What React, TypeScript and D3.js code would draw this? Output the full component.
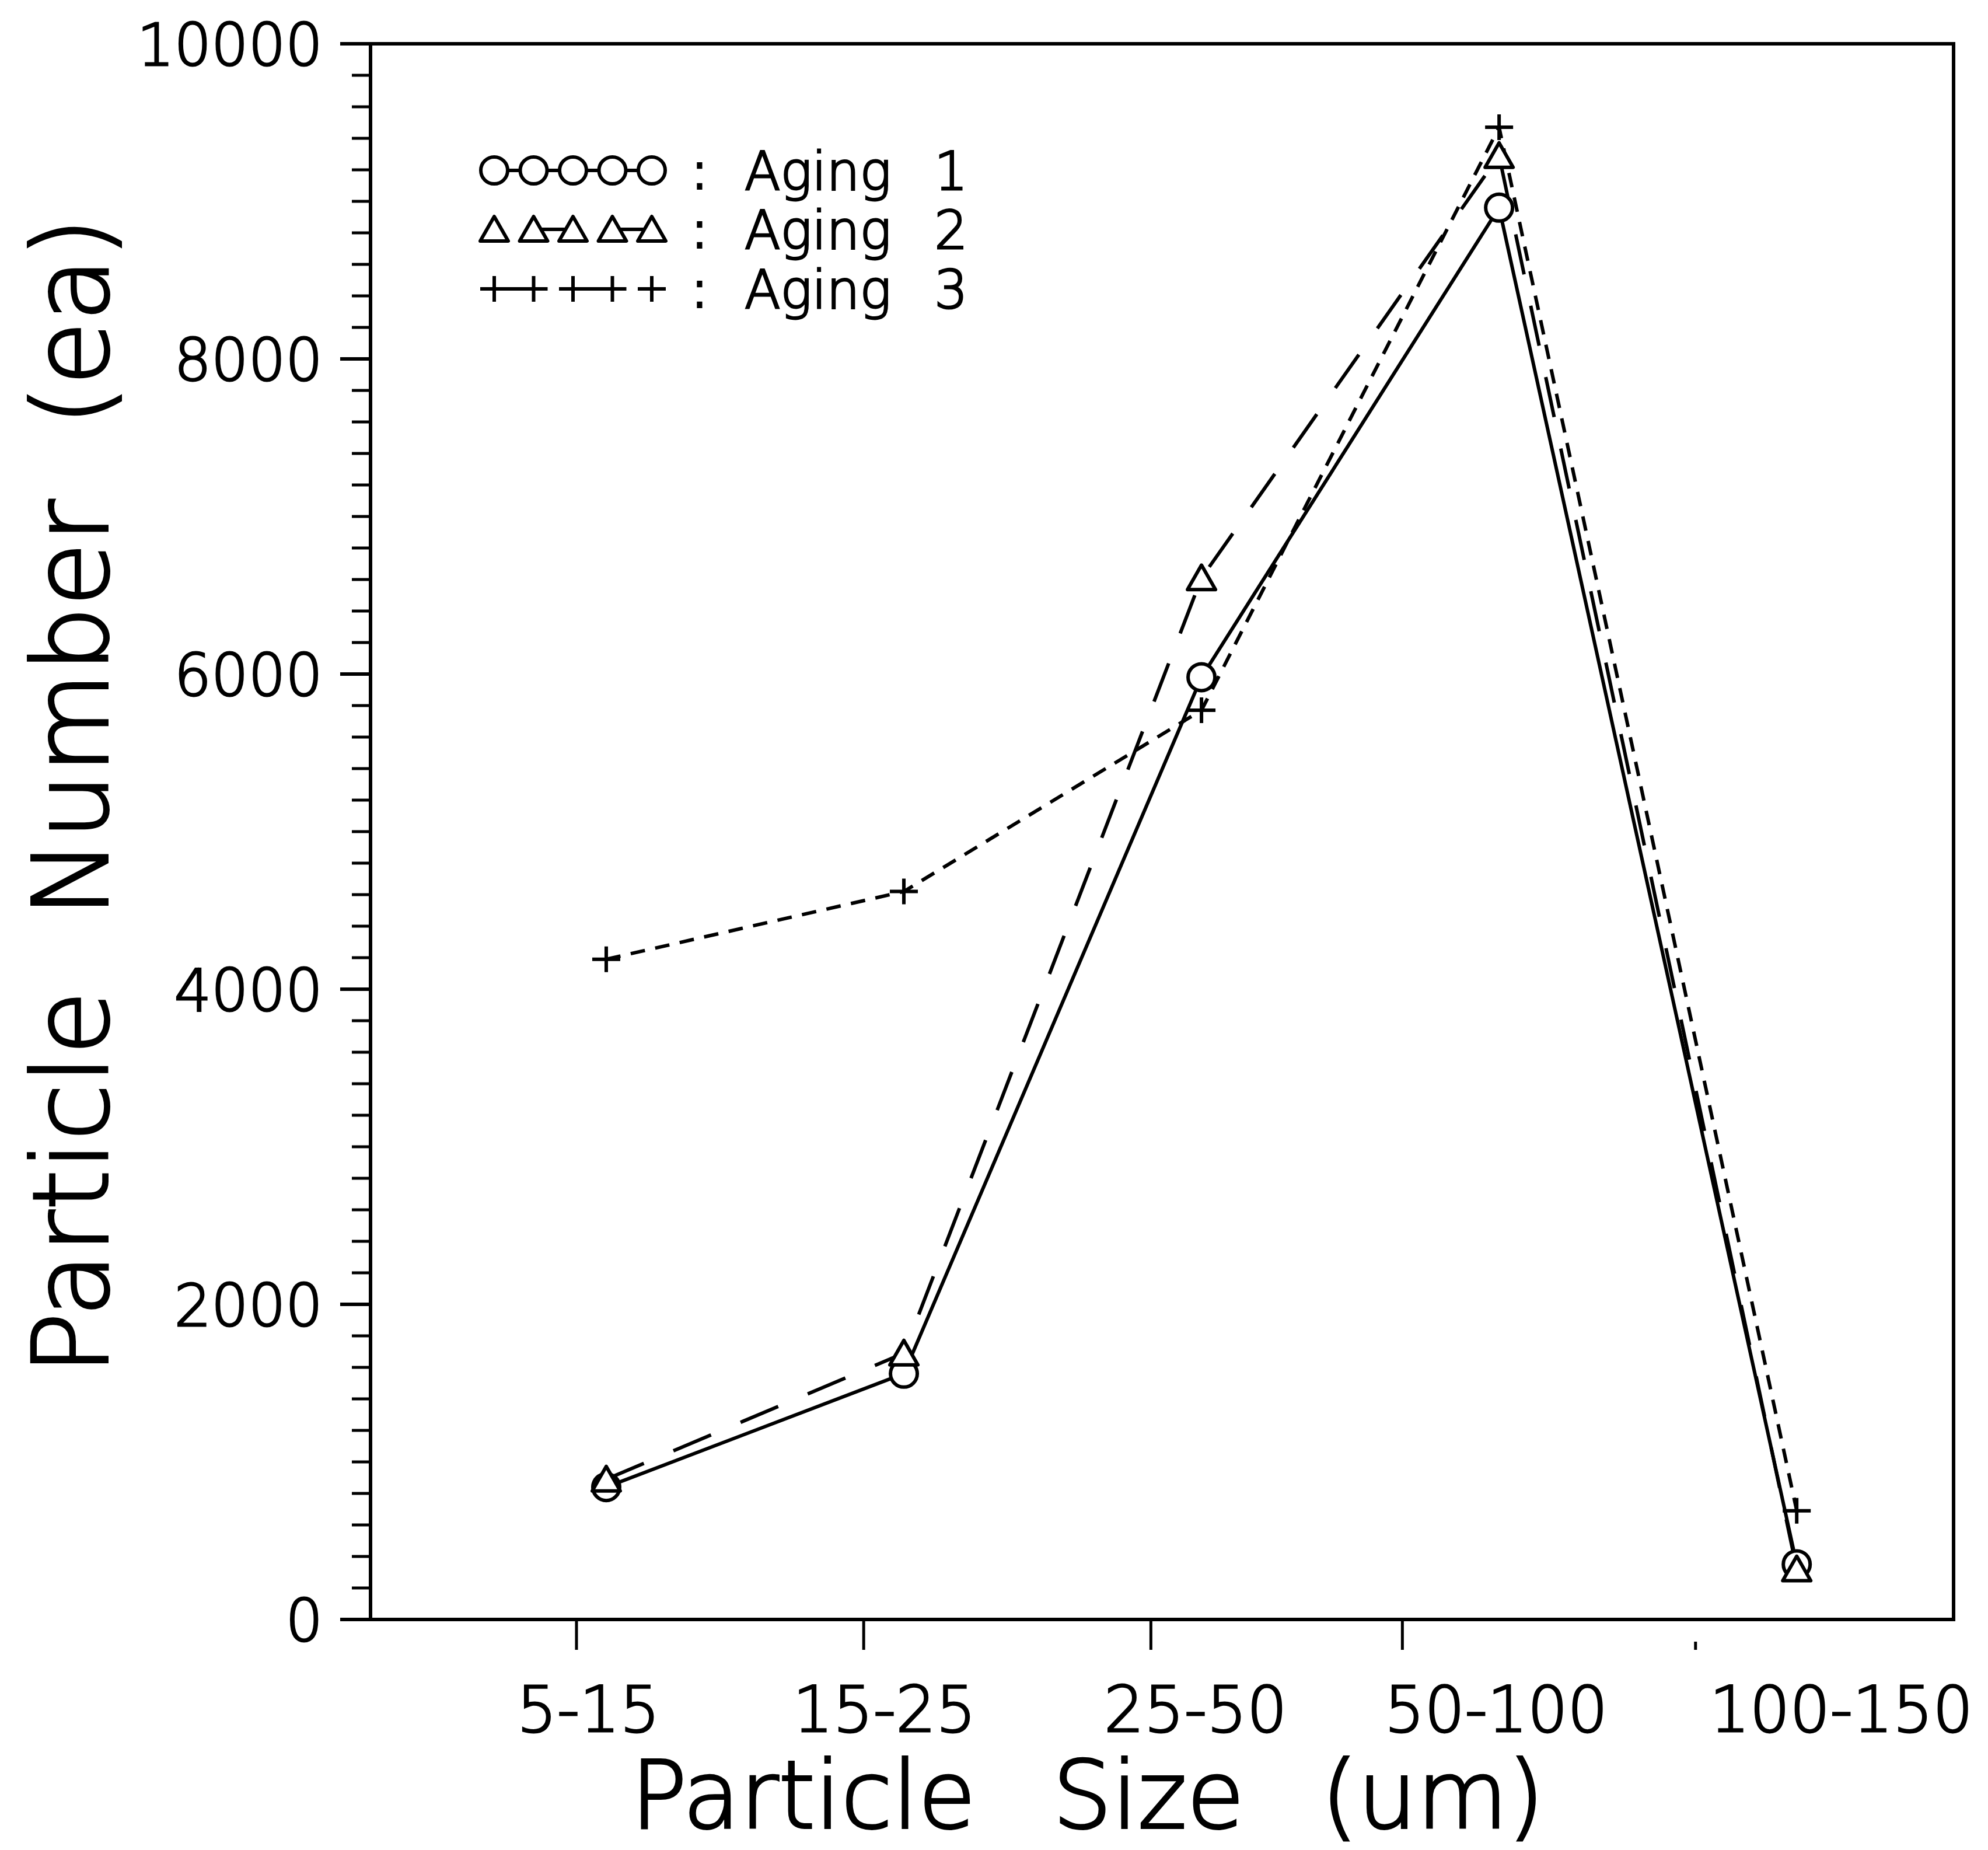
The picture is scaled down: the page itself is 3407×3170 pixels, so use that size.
import React from "react";
import * as d3 from "d3";

// ---- data ----
const categories = ["5-15", "15-25", "25-50", "50-100", "100-150"];
const aging1 = [840, 1560, 5980, 8960, 350];
const aging2 = [890, 1690, 6610, 9290, 320];
const aging3 = [4190, 4620, 5770, 9470, 690];
const seriesNames = ["Aging 1", "Aging 2", "Aging 3"];
const yMajorTicks = [0, 2000, 4000, 6000, 8000, 10000];
// x tick marks and label centres, in category-index units
const xTickValues = [-0.1, 0.865, 1.83, 2.675, 3.66];
const xLabelValues = [-0.06, 0.935, 1.98, 2.99, 4.15];

const W = 3407;
const H = 3170;
const FONT = "'DejaVu Sans', 'Liberation Sans', sans-serif";
const FW = 200;

export default function App() {
  const left = 635, right = 3348, top = 75, bottom = 2775;
  const x = d3.scaleLinear().domain([-0.792, 4.527]).range([left, right]);
  const y = d3.scaleLinear().domain([0, 10000]).range([bottom, top]);
  const yMinor = d3.range(0, 10001, 200);

  const line = d3
    .line<number>()
    .x((_, i) => x(i))
    .y((d) => y(d));

  const series = [
    { name: seriesNames[0], values: aging1, dash: "none", marker: "circle" },
    { name: seriesNames[1], values: aging2, dash: "70,55", marker: "triangle" },
    { name: seriesNames[2], values: aging3, dash: "25,18", marker: "plus" },
  ];

  const sw = 6;
  const textStroke = { stroke: "black", strokeWidth: 3, paintOrder: "stroke" } as const;

  const marker = (kind: string, cx: number, cy: number, key: string) => {
    if (kind === "circle")
      return <circle key={key} cx={cx} cy={cy} r={23} fill="white" stroke="black" strokeWidth={sw} />;
    if (kind === "triangle")
      return (
        <path
          key={key}
          d={`M${cx},${cy - 22} L${cx + 24},${cy + 20} L${cx - 24},${cy + 20} Z`}
          fill="white"
          stroke="black"
          strokeWidth={sw}
          strokeLinejoin="round"
        />
      );
    return (
      <path
        key={key}
        d={`M${cx - 24},${cy} H${cx + 24} M${cx},${cy - 22} V${cy + 22}`}
        stroke="black"
        strokeWidth={sw}
        fill="none"
      />
    );
  };

  // legend geometry
  const legX0 = 847, legDx = 67.5;
  const legRows = [292, 393, 495];
  const legSegs: number[][][] = [
    [[0, 4]],
    [[1, 2], [3, 4]],
    [[0, 1], [2, 3]],
  ];

  return (
    <svg
      width={W}
      height={H}
      viewBox={`0 0 ${W} ${H}`}
      style={{ position: "absolute", left: 0, top: 0, background: "white" }}
    >
      <rect x={0} y={0} width={W} height={H} fill="white" />

      {/* frame */}
      <rect x={left} y={top} width={right - left} height={bottom - top} fill="none" stroke="black" strokeWidth={6} />

      {/* y minor ticks */}
      {yMinor.map((v) => (
        <line key={"m" + v} x1={left - 32} x2={left} y1={y(v)} y2={y(v)} stroke="black" strokeWidth={5} />
      ))}
      {/* y major ticks + labels */}
      {yMajorTicks.map((v) => (
        <g key={"M" + v}>
          <line x1={left - 52} x2={left} y1={y(v)} y2={y(v)} stroke="black" strokeWidth={6} />
          <text
            x={553}
            y={y(v) + 37}
            textAnchor="end"
            fontFamily={FONT}
            fontWeight={FW}
            fontSize={100}
            fill="black"
            {...textStroke}
          >
            {v}
          </text>
        </g>
      ))}

      {/* x ticks */}
      {xTickValues.map((v, i) => (
        <line
          key={"xt" + i}
          x1={x(v)}
          x2={x(v)}
          y1={i === xTickValues.length - 1 ? bottom + 38 : bottom}
          y2={bottom + 52}
          stroke="black"
          strokeWidth={5}
        />
      ))}
      {categories.map((c, i) => (
        <text
          key={"xl" + c}
          x={x(xLabelValues[i])}
          y={2967}
          textAnchor="middle"
          fontFamily={FONT}
          fontWeight={FW}
          fontSize={108}
          fill="black"
          {...textStroke}
        >
          {c}
        </text>
      ))}

      {/* axis titles */}
      <text
        x={1081}
        y={3132}
        fontFamily={FONT}
        fontWeight={FW}
        fontSize={160}
        wordSpacing={81}
        fill="black"
        stroke="black"
        strokeWidth={4}
        style={{ whiteSpace: "pre" }}
      >
        Particle Size (um)
      </text>
      <text
        transform={`translate(184,1364) rotate(-90)`}
        textAnchor="middle"
        fontFamily={FONT}
        fontWeight={FW}
        fontSize={178}
        wordSpacing={70}
        fill="black"
        stroke="black"
        strokeWidth={4}
      >
        Particle Number (ea)
      </text>

      {/* series lines */}
      {series.map((s) => (
        <path
          key={"l" + s.name}
          d={line(s.values) || ""}
          fill="none"
          stroke="black"
          strokeWidth={sw}
          strokeDasharray={s.dash}
        />
      ))}
      {/* markers */}
      {series.map((s) => s.values.map((v, i) => marker(s.marker, x(i), y(v), s.name + i)))}

      {/* legend */}
      {series.map((s, r) => {
        const cy = legRows[r];
        return (
          <g key={"leg" + r}>
            {legSegs[r].map(([a, b], k) => (
              <line
                key={k}
                x1={legX0 + a * legDx}
                x2={legX0 + b * legDx}
                y1={cy}
                y2={cy}
                stroke="black"
                strokeWidth={sw}
              />
            ))}
            {d3.range(5).map((k) => marker(s.marker, legX0 + k * legDx, cy, "lm" + r + k))}
            <text
              x={1199}
              y={cy + 33}
              textAnchor="middle"
              fontFamily={FONT}
              fontWeight={400}
              fontSize={90}
              fill="black"
            >
              :
            </text>
            <text
              x={1276}
              y={cy + 33}
              fontFamily={FONT}
              fontWeight={FW}
              fontSize={90}
              wordSpacing={45}
              fill="black"
              {...textStroke}
            >
              {s.name}
            </text>
          </g>
        );
      })}
    </svg>
  );
}
